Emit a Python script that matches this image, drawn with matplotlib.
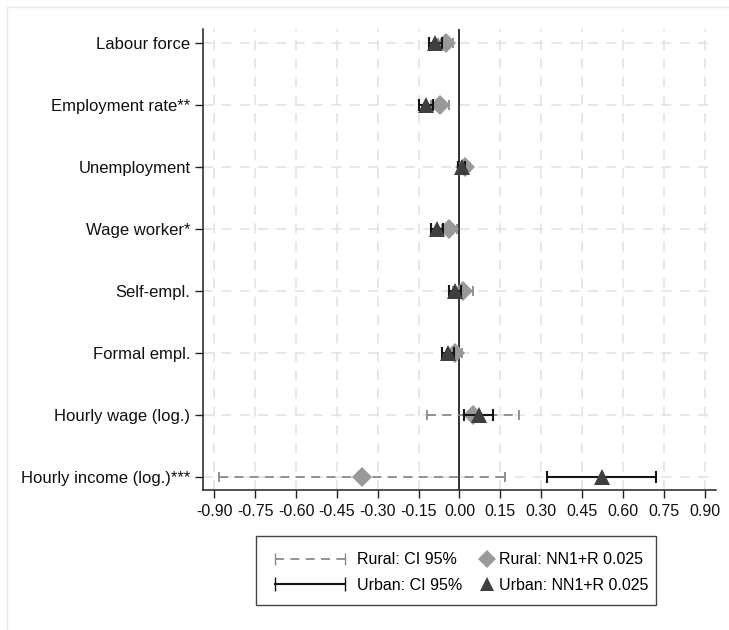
import matplotlib
matplotlib.use('Agg')
from matplotlib import pyplot as plt
from matplotlib.lines import Line2D
from matplotlib.patches import Rectangle
from matplotlib.legend_handler import HandlerBase
import numpy as np

filename = 'out.png'

outcomes = ['Labour force', 'Employment rate**', 'Unemployment', 'Wage worker*',
            'Self-empl.', 'Formal empl.', 'Hourly wage (log.)', 'Hourly income (log.)***']

rural_est = [-0.050, -0.070, 0.022, -0.038, 0.013, -0.018, 0.048, -0.357]
rural_lo = [-0.078, -0.105, 0.005, -0.065, -0.023, -0.045, -0.120, -0.882]
rural_hi = [-0.024, -0.037, 0.038, -0.010, 0.050, 0.009, 0.220, 0.167]

urban_est = [-0.090, -0.122, 0.008, -0.084, -0.018, -0.044, 0.073, 0.524]
urban_lo = [-0.113, -0.147, -0.005, -0.106, -0.038, -0.065, 0.018, 0.323]
urban_hi = [-0.065, -0.097, 0.020, -0.060, 0.004, -0.022, 0.123, 0.720]

x_ticks = [-0.90, -0.75, -0.60, -0.45, -0.30, -0.15, 0.00, 0.15, 0.30, 0.45, 0.60, 0.75, 0.90]

rural_color = '#999999'
rural_ci_color = '#8a8a8a'
urban_color = '#3f3f3f'
urban_ci_color = '#151515'
grid_color = '#e3e3e3'

plt.rcParams['font.family'] = ['Liberation Sans', 'DejaVu Sans']
label_fs = 12
tick_fs = 11.5
legend_fs = 11.5


class CapLineHandler(HandlerBase):
    """Legend line with a cap at both ends, like an error bar."""

    def create_artists(self, legend, orig_handle, xdescent, ydescent, width,
                       height, fontsize, trans):
        yc = height / 2 - ydescent
        line = Line2D([-xdescent, -xdescent + width], [yc, yc])
        self.update_prop(line, orig_handle, legend)
        line.set_marker('|')
        line.set_markersize(orig_handle.get_markersize())
        line.set_transform(trans)
        return [line]


fig = plt.figure(figsize=(7.29, 6.3), dpi=100)
ax = fig.add_axes([203 / 729, 1 - 490 / 630, (716 - 203) / 729, (490 - 29) / 630])

y = np.arange(1, len(outcomes) + 1)

ax.set_xlim(-0.942, 0.942)
ax.set_ylim(len(outcomes) + 0.21, 0.77)

# dashed grid in both directions
for t in x_ticks:
    ax.axvline(t, color=grid_color, linestyle=(0, (6, 5)), linewidth=1.2, zorder=0)
for yy in y:
    ax.axhline(yy, color=grid_color, linestyle=(0, (6, 5)), linewidth=1.2, zorder=0)
ax.axvline(0, color='#333333', linewidth=1.4, zorder=1)

r_err = [np.array(rural_est) - np.array(rural_lo), np.array(rural_hi) - np.array(rural_est)]
u_err = [np.array(urban_est) - np.array(urban_lo), np.array(urban_hi) - np.array(urban_est)]

eb = ax.errorbar(rural_est, y, xerr=r_err, fmt='none', ecolor=rural_ci_color,
                 elinewidth=1.3, capsize=3.4, capthick=1.3, zorder=2)
eb[2][0].set_linestyle((0, (5, 3.5)))
ax.plot(rural_est, y, linestyle='none', marker='D', markersize=10,
        color=rural_color, markeredgewidth=0, zorder=3)

ax.errorbar(urban_est, y, xerr=u_err, fmt='none', ecolor=urban_ci_color,
            elinewidth=1.5, capsize=4.0, capthick=1.5, zorder=4)
ax.plot(urban_est, y, linestyle='none', marker='^', markersize=11,
        color=urban_color, markeredgewidth=0, zorder=5)

ax.set_yticks(y)
ax.set_yticklabels(outcomes, fontsize=label_fs)
ax.set_xticks(x_ticks)
ax.set_xticklabels([f'{t:.2f}' for t in x_ticks], fontsize=tick_fs)
ax.tick_params(axis='both', direction='out', length=6, width=1, color='#222222',
               labelcolor='#111111')
ax.tick_params(axis='x', pad=4)
ax.tick_params(axis='y', pad=3)

for side in ['top', 'right']:
    ax.spines[side].set_visible(False)
for side in ['left', 'bottom']:
    ax.spines[side].set_color('#222222')
    ax.spines[side].set_linewidth(1.1)

# legend: two columns built as two legends inside one frame
ci_handles = [
    Line2D([0], [0], color=rural_ci_color, linestyle=(0, (5, 3.5)), linewidth=1.3,
           markersize=8),
    Line2D([0], [0], color=urban_ci_color, linewidth=1.5, markersize=10),
]
pt_handles = [
    Line2D([0], [0], linestyle='none', marker='D', markersize=9.5,
           color=rural_color, markeredgewidth=0),
    Line2D([0], [0], linestyle='none', marker='^', markersize=10,
           color=urban_color, markeredgewidth=0),
]
leg_y = 1 - 572.5 / 630
px = legend_fs * 100 / 72
fig.legend(ci_handles, ['Rural: CI 95%', 'Urban: CI 95%'], loc='center left',
           bbox_to_anchor=(275 / 729, leg_y), frameon=False, borderpad=0,
           borderaxespad=0, handlelength=70 / px, handletextpad=12 / px,
           labelspacing=10 / px, fontsize=legend_fs,
           handler_map={Line2D: CapLineHandler()})
fig.legend(pt_handles, ['Rural: NN1+R 0.025', 'Urban: NN1+R 0.025'],
           loc='center left', bbox_to_anchor=(480 / 729, leg_y), frameon=False,
           borderpad=0, borderaxespad=0, handlelength=14 / px,
           handletextpad=5 / px, labelspacing=10 / px, fontsize=legend_fs)
fig.patches.append(Rectangle((256 / 729, 1 - 605 / 630), 400 / 729, 69 / 630,
                             transform=fig.transFigure, fill=False,
                             edgecolor='#444444', linewidth=1.0))

# faint outer frame of the graph region
fig.patches.append(Rectangle((7 / 729, -0.01), 1.0, 1 - 7 / 630 + 0.01,
                             transform=fig.transFigure, fill=False,
                             edgecolor='#e8e8e8', linewidth=1.0))

fig.savefig(filename, dpi=100, facecolor='white')
plt.close(fig)
